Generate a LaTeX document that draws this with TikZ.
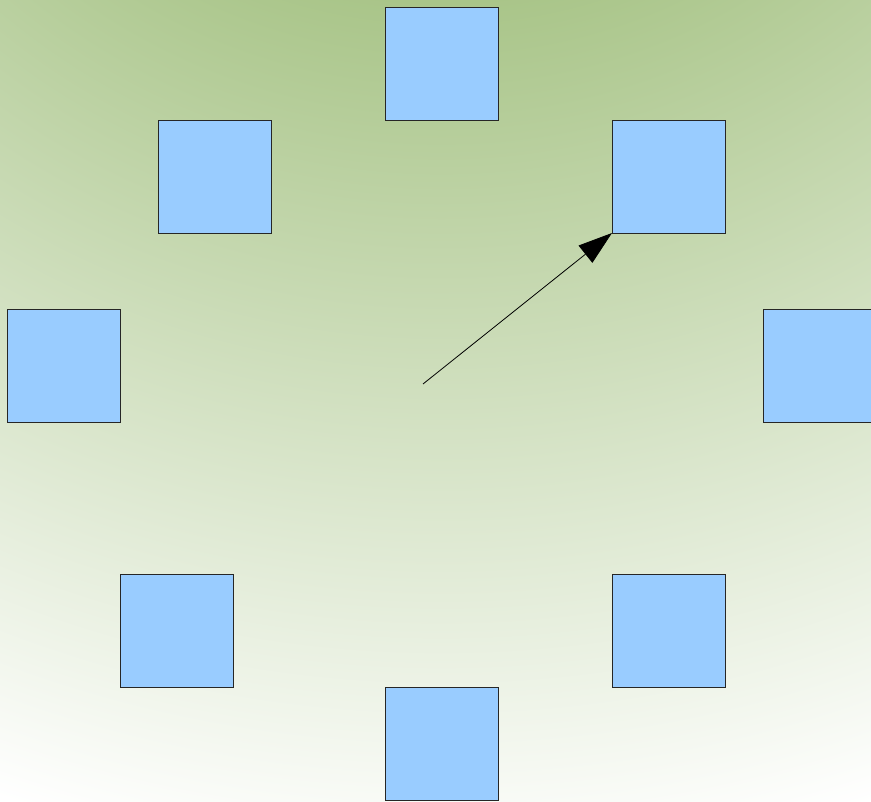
\documentclass[tikz,border=0pt]{standalone}
\usepackage{tikz}
\usetikzlibrary{arrows.meta}
\definecolor{tileblue}{HTML}{99CCFF}
\definecolor{bggreen}{RGB}{119,163,68}
\pgfdeclareradialshading{bgglow}{\pgfpoint{0bp}{0bp}}{%
  color(0bp)=(bggreen); color(25bp)=(white); color(50bp)=(white)}
\tikzset{
  >={Triangle[length=34pt,width=22pt]},
  tile/.style={draw=black!85,fill=tileblue,line width=0.8pt,
    minimum size=113pt,inner sep=0pt,outer sep=0pt},
  hand/.style={->,line width=0.8pt},
}
\begin{document}
\begin{tikzpicture}[x=1pt,y=-1pt]
  \useasboundingbox (0,0) rectangle (871,802);
  \fill[white] (0,0) rectangle (871,802);
  \begin{scope}
    \clip (0,0) rectangle (871,802);
    \shade[shading=bgglow] (441,-507) circle (1377);
  \end{scope}
  \node[tile] (t12) at (441.5,63.5) {};
  \node[tile] (t11) at (214.5,176.5) {};
  \node[tile] (t1) at (668.5,176.5) {};
  \node[tile] (t9) at (63.5,365.5) {};
  \node[tile] (t3) at (819.5,365.5) {};
  \node[tile] (t7) at (176.5,630.5) {};
  \node[tile] (t5) at (668.5,630.5) {};
  \node[tile] (t6) at (441.5,743.5) {};
  \coordinate (hub) at (423,384);
  \draw[hand] (hub) -- (t1.south west);
\end{tikzpicture}
\end{document}
